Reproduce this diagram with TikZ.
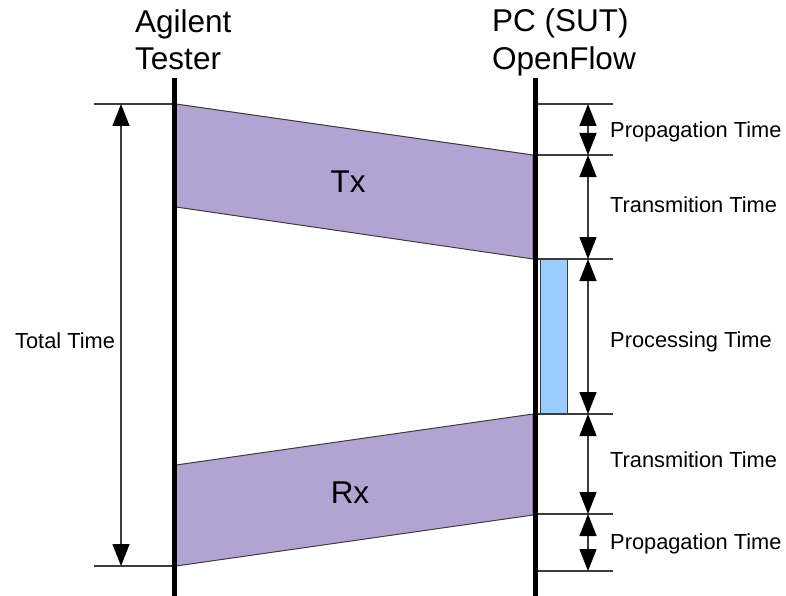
\documentclass[tikz,border=0pt]{standalone}
\usepackage{fontspec}
\setmainfont{Liberation Sans}
\usetikzlibrary{arrows.meta}
\definecolor{lav}{RGB}{179,163,211}
\definecolor{procblue}{RGB}{153,204,255}
\definecolor{thinline}{RGB}{60,60,60}
\tikzset{
  lifeline/.style={line width=5pt, black},
  tick/.style={line width=1.3pt, thinline},
  dim/.style={line width=1.3pt, thinline, {Triangle[length=22pt,width=17pt,black]}-{Triangle[length=22pt,width=17pt,black]}},
  band/.style={fill=lav, draw=thinline, line width=1pt},
  procbox/.style={fill=procblue, draw=thinline, line width=1pt},
  head/.style={font=\fontsize{31.5}{37}\selectfont, anchor=base west, inner sep=0pt},
  lbl/.style={font=\fontsize{21.8}{25}\selectfont, anchor=base west, inner sep=0pt},
  big/.style={font=\fontsize{31.5}{37}\selectfont, anchor=base, inner sep=0pt}
}
\begin{document}
\begin{tikzpicture}[x=1pt,y=-1pt]
\useasboundingbox (0,0) rectangle (786,596);
% coordinates
\coordinate (Ltop) at (174,78);
\coordinate (Lbot) at (174,596);
\coordinate (Rtop) at (535,78);
\coordinate (Rbot) at (535,596);
% Tx band
\coordinate (tx1) at (176,104);
\coordinate (tx2) at (533,155);
\coordinate (tx3) at (533,259);
\coordinate (tx4) at (176,207);
\draw[band] (tx1) -- (tx2) -- (tx3) -- (tx4) -- cycle;
% Rx band
\coordinate (rx1) at (176,465);
\coordinate (rx2) at (533,414);
\coordinate (rx3) at (533,515);
\coordinate (rx4) at (176,566);
\draw[band] (rx1) -- (rx2) -- (rx3) -- (rx4) -- cycle;
% processing box
\coordinate (pb1) at (540.5,259);
\coordinate (pb2) at (567,414);
\draw[procbox] (pb1) rectangle (pb2);
% left ticks
\coordinate (lt1a) at (94,104);  \coordinate (lt1b) at (174,104);
\coordinate (lt2a) at (94,566);  \coordinate (lt2b) at (174,566);
\draw[tick] (lt1a) -- (lt1b);
\draw[tick] (lt2a) -- (lt2b);
% right ticks
\foreach \n/\y in {1/104,2/155,3/259,4/414,5/514,6/571}{
  \coordinate (rt\n a) at (537,\y);
  \coordinate (rt\n b) at (613,\y);
  \coordinate (ra\n) at (588,\y);
  \draw[tick] (rt\n a) -- (rt\n b);
}
% lifelines
\draw[lifeline] (Ltop) -- (Lbot);
\draw[lifeline] (Rtop) -- (Rbot);
% dimension arrows
\coordinate (ta) at (121,104);
\coordinate (tb) at (121,566);
\draw[dim] (ta) -- (tb);
\draw[dim] (ra1) -- (ra2);
\draw[dim] (ra2) -- (ra3);
\draw[dim] (ra3) -- (ra4);
\draw[dim] (ra4) -- (ra5);
\draw[dim] (ra5) -- (ra6);
% headers
\node[head] (h1) at (135,33) {Agilent};
\node[head] (h2) at (135,70) {Tester};
\node[head] (h3) at (492,32) {PC (SUT)};
\node[head] (h4) at (492,70) {OpenFlow};
% band labels
\node[big] (txl) at (348,192) {Tx};
\node[big] (rxl) at (350,503) {Rx};
% right labels
\node[lbl] (l1) at (610,138) {Propagation Time};
\node[lbl] (l2) at (610,212) {Transmition Time};
\node[lbl] (l3) at (610,347) {Processing Time};
\node[lbl] (l4) at (610,467) {Transmition Time};
\node[lbl] (l5) at (610,549) {Propagation Time};
\node[lbl] (l6) at (15,348) {Total Time};
\end{tikzpicture}
\end{document}
